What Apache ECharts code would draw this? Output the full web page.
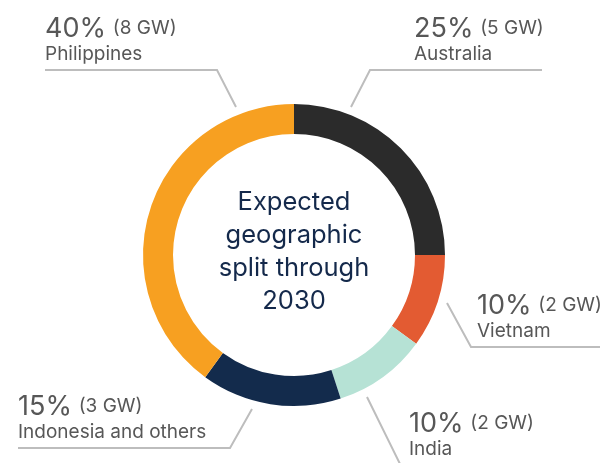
<!DOCTYPE html>
<html>
<head>
<meta charset="utf-8">
<script src="https://cdn.jsdelivr.net/npm/echarts@6/dist/echarts.min.js"></script>
<style>
  html, body { margin: 0; padding: 0; background: #fff; }
  #chart { width: 604px; height: 463px; }
</style>
</head>
<body>
<div id="chart"></div>
<script>
// data
const regions = ['Australia', 'Vietnam', 'India', 'Indonesia and others', 'Philippines']
const shares = [25, 10, 10, 15, 40]
const capacityGW = [5, 2, 2, 3, 8]
const colors = ['#2b2b2b', '#e35b32', '#b6e2d5', '#132b4c', '#f7a021']

// where each label and its leader line go (x of text, bent line points)
const labelSpots = [
  { x: 414, y: 66, line: [[351, 107], [370, 70], [542, 70]] },
  { x: 477, y: 343, line: [[447, 303], [471, 347], [600, 347]] },
  { x: 409, y: 461, line: [[367, 397], [402, 468], [560, 468]] },
  { x: 18, y: 444, line: [[252, 409], [230, 448], [18, 448]] },
  { x: 45, y: 66, line: [[236, 107], [217, 70], [45, 70]] }
]

const chart = echarts.init(document.getElementById('chart'))

const option = {
  animation: false,
  textStyle: { fontFamily: 'Inter' },
  graphic: [
    {
      type: 'text',
      x: 294,
      y: 252,
      style: {
        text: 'Expected\ngeographic\nsplit through\n2030',
        align: 'center',
        verticalAlign: 'middle',
        fill: '#14294b',
        font: '25.5px Inter',
        lineHeight: 33
      }
    }
  ],
  series: [
    {
      type: 'pie',
      center: [294, 255],
      radius: [121, 151],
      startAngle: 90,
      clockwise: true,
      avoidLabelOverlap: false,
      data: regions.map((name, i) => ({
        name,
        value: shares[i],
        itemStyle: { color: colors[i] }
      })),
      label: {
        show: true,
        formatter: p => `{pct|${p.value}%}  {gw|(${capacityGW[p.dataIndex]} GW)}\n{name|${p.name}}`,
        rich: {
          pct: { fontSize: 27, color: '#575757', lineHeight: 29, fontFamily: 'Inter' },
          gw: { fontSize: 19, color: '#575757', lineHeight: 29, fontFamily: 'Inter' },
          name: { fontSize: 19, color: '#575757', lineHeight: 23, fontFamily: 'Inter' }
        }
      },
      labelLine: {
        show: true,
        lineStyle: { color: '#bdbdbd', width: 2 }
      },
      labelLayout: params => {
        const s = labelSpots[params.dataIndex]
        return {
          x: s.x,
          y: s.y,
          align: 'left',
          verticalAlign: 'bottom',
          labelLinePoints: s.line
        }
      },
      emphasis: { disabled: true }
    }
  ]
}

chart.setOption(option)
</script>
</body>
</html>
